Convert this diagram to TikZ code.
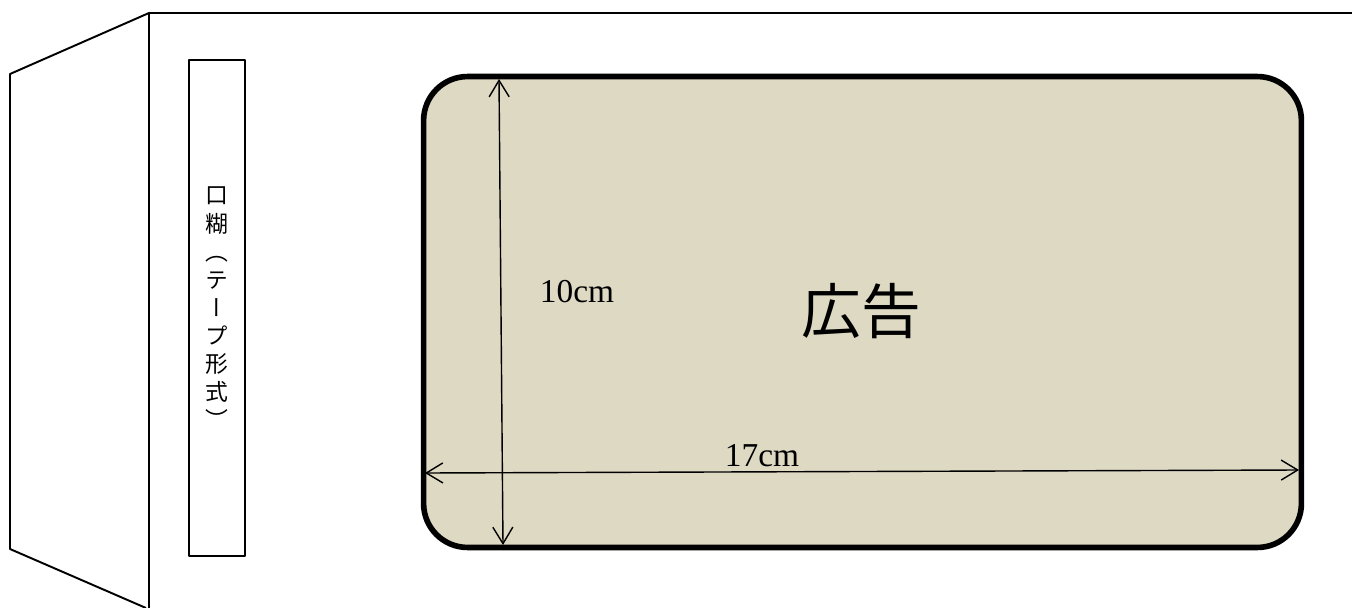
\documentclass[tikz,border=0pt]{standalone}
\usepackage{fontspec}
\setmainfont{Liberation Serif}
\newfontfamily\cjk{Noto Sans CJK JP}
\newfontfamily\cjkv[RawFeature=+vert]{Noto Sans CJK JP}
\usetikzlibrary{arrows.meta}
\definecolor{adfill}{RGB}{221,217,195}

\begin{document}
\begin{tikzpicture}[x=0.02cm, y=-0.02cm, line join=round,
	edge/.style = {line width = 1.1pt},
	tape/.style = {draw, line width = 0.7pt, minimum width = 1.12cm, minimum height = 9.92cm, inner sep = 0pt},
	adbox/.style = {draw, fill = adfill, line width = 3.2pt, rounded corners = 0.88cm, minimum width = 17.56cm, minimum height = 9.42cm},
	dim/.style = {line width = 0.8pt, {Straight Barb[length=0.33cm, width=0.4cm]}-{Straight Barb[length=0.33cm, width=0.4cm]}}]
	\useasboundingbox (0,0) rectangle (1352,608);
	% envelope and flap
	\draw[edge] (1352,13) -- (149,13) -- (10,74) -- (10,549) -- (146,608);
	\draw[edge] (149,13) -- (149,608);
	% tape
	\node[tape] (tape) at (217,308) {};
	\node[font = \cjkv\fontsize{13}{16}\selectfont, align = center] (glue) at (tape) {口\\糊\\（\\テ\\ー\\プ\\形\\式\\）};
	% ad
	\node[adbox] (ad) at (862.5,312) {};
	\node[font = \cjk\fontsize{34}{40}\selectfont] (kokoku) at (861,311) {広告};
	\coordinate (top) at (499,79);
	\coordinate (bot) at (503,545);
	\coordinate (left) at (425,473);
	\coordinate (right) at (1299,470);
	\draw[dim] (top) -- (bot);
	\draw[dim] (left) -- (right);
	\node[font = \fontsize{19}{22}\selectfont, anchor = base] (h) at (577,302) {10cm};
	\node[font = \fontsize{19}{22}\selectfont, anchor = base] (w) at (762,466) {17cm};
\end{tikzpicture}
\end{document}
